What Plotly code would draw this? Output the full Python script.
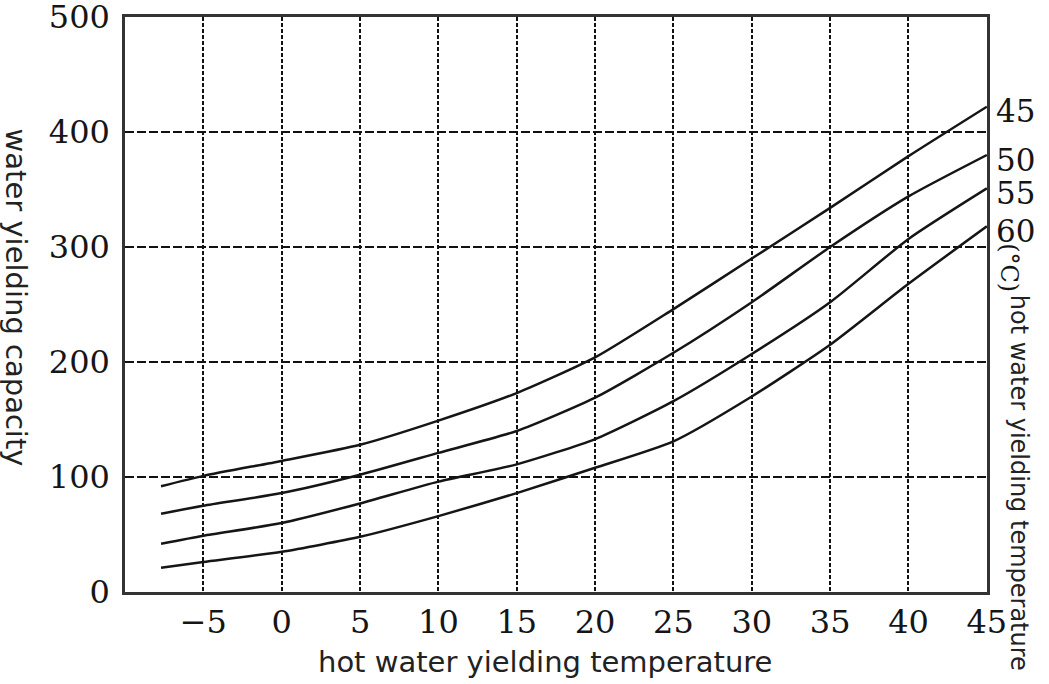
import plotly.graph_objects as go

# Data
ambient_temp = [-7.7, -5, 0, 5, 10, 15, 20, 25, 30, 35, 40, 45]
cap_45 = [92, 101, 114, 128, 149, 173, 204, 246, 290, 334, 379, 422]
cap_50 = [68, 75, 86, 102, 121, 140, 169, 208, 252, 300, 344, 380]
cap_55 = [42, 49, 60, 77, 96, 111, 133, 166, 207, 252, 307, 351]
cap_60 = [21, 26, 35, 48, 66, 86, 108, 131, 170, 215, 268, 318]
series_labels = ["45", "50", "55", "60"]
x_ticks = [-5, 0, 5, 10, 15, 20, 25, 30, 35, 40, 45]
x_tick_text = ["\u22125", "0", "5", "10", "15", "20", "25", "30", "35", "40", "45"]
y_ticks = [0, 100, 200, 300, 400, 500]

series = [cap_45, cap_50, cap_55, cap_60]

fig = go.Figure()
for vals, lab in zip(series, series_labels):
    fig.add_trace(go.Scatter(
        x=ambient_temp, y=vals, mode="lines", name=lab,
        line=dict(color="#151515", width=2.5, shape="spline", smoothing=0.6),
        showlegend=False, hoverinfo="x+y",
    ))

tick_font = dict(family="DejaVu Serif", size=32, color="#151515")
label_font = dict(family="DejaVu Serif", size=31, color="#151515")

fig.update_layout(
    width=1049, height=684,
    margin=dict(l=125, r=62, t=17, b=92),
    paper_bgcolor="white", plot_bgcolor="white",
    xaxis=dict(
        range=[-10, 45.01], tickvals=x_ticks, ticktext=x_tick_text,
        showgrid=True, gridcolor="#111111", gridwidth=2.3, griddash="4px,2px",
        showline=True, linecolor="#333333", linewidth=2.5, mirror=True,
        ticks="", tickfont=tick_font, zeroline=False, ticklabelstandoff=0,
        ticklabeloverflow="allow", automargin=False,
    ),
    yaxis=dict(
        range=[0, 500.01], tickvals=y_ticks,
        showgrid=True, gridcolor="#111111", gridwidth=2.3, griddash="9px,3px",
        showline=True, linecolor="#333333", linewidth=2.5, mirror=True,
        ticks="", tickfont=tick_font, zeroline=False, ticklabelstandoff=6,
        ticklabeloverflow="allow", automargin=False,
    ),
)

# Right-hand series labels at curve ends
for vals, lab in zip(series, series_labels):
    fig.add_annotation(
        xref="paper", yref="y", x=1, y=vals[-1] - 4, text=lab,
        xanchor="left", yanchor="middle", xshift=7, showarrow=False,
        font=label_font,
    )

# Axis titles
fig.add_annotation(
    xref="paper", yref="paper", x=0.487, y=0, yshift=-70,
    text="hot water yielding temperature", showarrow=False,
    xanchor="center", yanchor="middle",
    font=dict(family="DejaVu Sans", size=29, color="#222222"),
)
fig.add_annotation(
    xref="paper", yref="paper", x=0, xshift=-109, y=0.512,
    text="water yielding capacity", showarrow=False, textangle=90,
    xanchor="center", yanchor="middle",
    font=dict(family="DejaVu Sans", size=29, color="#222222"),
)
fig.add_annotation(
    xref="paper", yref="paper", x=1, xshift=22, y=0.565,
    text="(\u00b0C)", showarrow=False, textangle=90,
    xanchor="center", yanchor="middle",
    font=dict(family="DejaVu Serif", size=24, color="#151515"),
)
fig.add_annotation(
    xref="paper", yref="paper", x=1, xshift=32, y=0.19,
    text="hot water yielding temperature", showarrow=False, textangle=90,
    xanchor="center", yanchor="middle",
    font=dict(family="DejaVu Sans", size=24, color="#222222"),
)

fig.write_html("out.html", config={"displayModeBar": False},
               post_script="document.body.style.margin='0';")
